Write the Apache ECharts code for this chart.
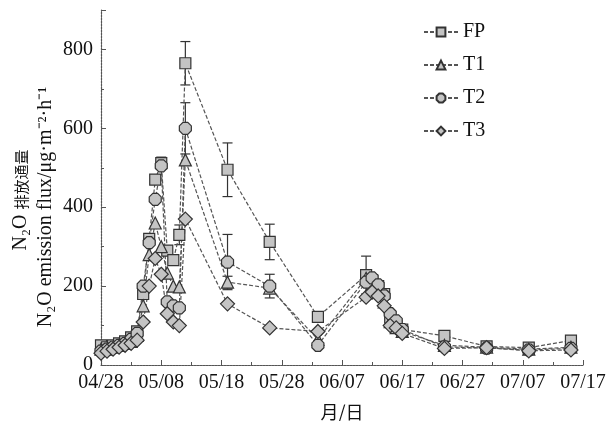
<!DOCTYPE html>
<html>
<head>
<meta charset="utf-8">
<script src="https://cdn.jsdelivr.net/npm/echarts@6/dist/echarts.min.js"></script>
<style>
  html, body { margin: 0; padding: 0; background: #fff; }
  #main { width: 613px; height: 421px; }
</style>
</head>
<body>
<div id="main"></div>
<script>
// days after 04/28
var days = [0, 1, 2, 3, 4, 5, 6, 7, 8, 9, 10, 11, 12, 13, 14, 21, 28, 36, 44, 45, 46, 47, 48, 49, 50, 57, 64, 71, 78];
var fp = [50, 45, 50, 55, 60, 70, 85, 180, 320, 470, 512, 290, 266, 330, 765, 495, 312, 122, 228, 215, 200, 180, 120, 100, 90, 74, 47, 44, 62];
var t1 = [40, 40, 45, 50, 55, 60, 75, 150, 280, 360, 300, 233, 200, 198, 520, 210, 195, 65, 220, 205, 190, 160, 110, 95, 85, 50, 45, 40, 45];
var t2 = [35, 40, 45, 50, 55, 65, 80, 200, 310, 420, 505, 160, 150, 145, 600, 261, 200, 50, 210, 221, 203, 175, 130, 112, 90, 46, 43, 38, 42];
var t3 = [30, 35, 40, 45, 50, 55, 63, 109, 200, 270, 230, 130, 109, 100, 370, 155, 94, 85, 172, 185, 175, 150, 100, 94, 80, 42, 44, 36, 38];

// error bars [day, value, err]
var errFP = [[10, 512, 15], [13, 330, 25], [14, 765, 55], [21, 495, 68], [28, 312, 45], [36, 122, 12], [44, 228, 48], [57, 74, 8], [78, 62, 10]];
var errT2 = [[14, 600, 65], [21, 261, 70], [28, 200, 30]];
var errT1 = [[21, 210, 15], [44, 220, 15]];

var xLabels = ['04/28', '05/08', '05/18', '05/28', '06/07', '06/17', '06/27', '07/07', '07/17'];
var names = ['FP', 'T1', 'T2', 'T3'];

function pairs(arr) {
	return arr.map(function (v, i) { return [days[i], v]; });
}

var font = '"Liberation Serif", "Times New Roman", serif';
var cjk = '"Noto Sans CJK SC"';
var octagon = 'path://M30,0 L70,0 L100,30 L100,70 L70,100 L30,100 L0,70 L0,30 Z';

function lineSeries(name, data, symbol, size) {
	return {
		name: name,
		type: 'line',
		data: pairs(data),
		symbol: symbol,
		symbolSize: size,
		z: 3,
		lineStyle: { color: '#555', width: 1.2, type: [4, 2] },
		itemStyle: { color: '#c4c4c4', borderColor: '#333', borderWidth: 1.2 }
	};
}

function errSeries(data) {
	return {
		type: 'custom',
		data: data,
		z: 2,
		silent: true,
		encode: { x: 0, y: 1 },
		renderItem: function (params, api) {
			var x = api.value(0);
			var y = api.value(1);
			var e = api.value(2);
			var top = api.coord([x, y + e]);
			var bot = api.coord([x, y - e]);
			var w = 5;
			var st = { stroke: '#333', lineWidth: 1.2 };
			return {
				type: 'group',
				children: [
					{ type: 'line', shape: { x1: top[0], y1: top[1], x2: bot[0], y2: bot[1] }, style: st },
					{ type: 'line', shape: { x1: top[0] - w, y1: top[1], x2: top[0] + w, y2: top[1] }, style: st },
					{ type: 'line', shape: { x1: bot[0] - w, y1: bot[1], x2: bot[0] + w, y2: bot[1] }, style: st }
				]
			};
		}
	};
}

var myChart = echarts.init(document.getElementById('main'));

var axisLine = { show: true, lineStyle: { color: '#555', width: 1.2, type: [2, 1] } };

var option = {
	animation: false,
	backgroundColor: '#fff',
	grid: { left: 101, right: 30, top: 10, bottom: 56, containLabel: false, outerBoundsMode: 'none' },
	legend: {
		data: names,
		orient: 'vertical',
		left: 418,
		top: 17,
		itemWidth: 34,
		itemHeight: 11,
		itemGap: 13,
		textStyle: { fontFamily: font, fontSize: 20, color: '#111' }
	},
	// y axis title, two rotated lines
	graphic: [{
		type: 'text',
		x: 21,
		y: 200,
		rotation: Math.PI / 2,
		style: {
			text: '{a|N₂O }{c|排放通量}',
			textAlign: 'center',
			textVerticalAlign: 'middle',
			rich: {
				a: { fontFamily: font, fontSize: 20, fill: '#111' },
				c: { fontFamily: cjk, fontSize: 15, fill: '#111' }
			}
		}
	}, {
		type: 'text',
		x: 46,
		y: 207,
		rotation: Math.PI / 2,
		style: {
			text: 'N₂O emission flux/μg·m⁻²·h⁻¹',
			textAlign: 'center',
			textVerticalAlign: 'middle',
			fontFamily: font,
			fontSize: 20,
			fill: '#111'
		}
	}],
	xAxis: {
		type: 'value',
		min: 0,
		max: 80,
		interval: 10,
		name: '月/日',
		nameLocation: 'middle',
		nameGap: 38,
		nameTextStyle: { fontFamily: cjk, fontSize: 18, color: '#111' },
		axisLine: axisLine,
		axisTick: { inside: true, length: 5, lineStyle: { color: '#555' } },
		minorTick: { show: true, splitNumber: 2, length: 3, lineStyle: { color: '#555' } },
		splitLine: { show: false },
		axisLabel: {
			fontFamily: font, fontSize: 20, color: '#111', margin: 8,
			formatter: function (v) { return xLabels[v / 10]; }
		}
	},
	yAxis: {
		type: 'value',
		min: 0,
		max: 900,
		interval: 200,
		axisLine: axisLine,
		axisTick: { inside: true, length: 5, lineStyle: { color: '#555' } },
		minorTick: { show: true, splitNumber: 2, length: 3, lineStyle: { color: '#555' } },
		splitLine: { show: false },
		axisLabel: { fontFamily: font, fontSize: 20, color: '#111', margin: 8, showMaxLabel: false }
	},
	series: [
		errSeries(errFP),
		errSeries(errT2),
		errSeries(errT1),
		lineSeries('FP', fp, 'rect', 11),
		lineSeries('T1', t1, 'triangle', 12),
		lineSeries('T2', t2, octagon, 12),
		lineSeries('T3', t3, 'diamond', 14)
	]
};

myChart.setOption(option);
</script>
</body>
</html>
